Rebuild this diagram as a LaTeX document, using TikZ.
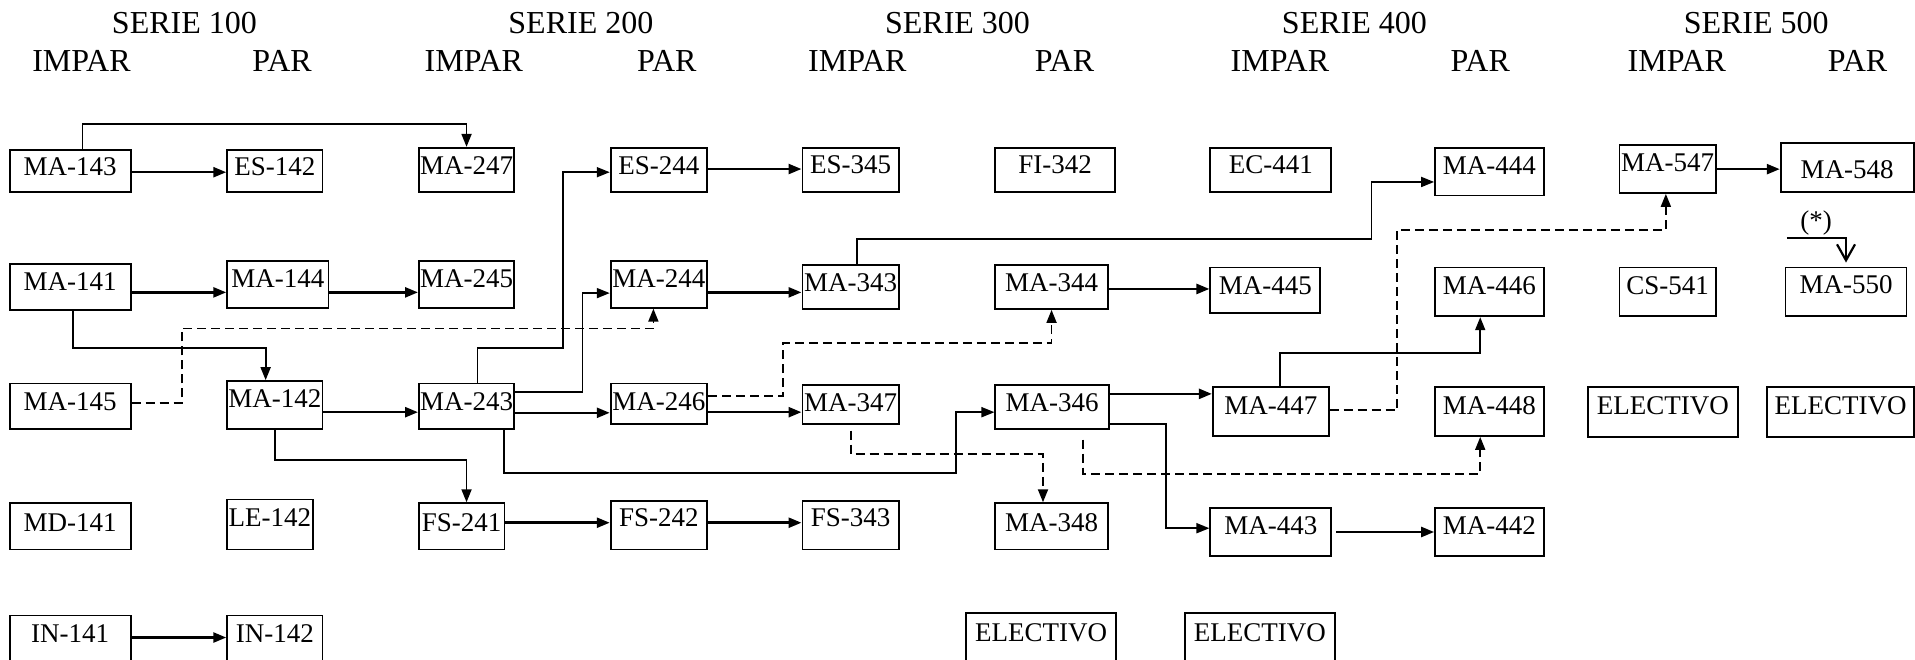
\documentclass[tikz,border=0pt]{standalone}
\usepackage{fontspec}
\setmainfont{Liberation Serif}
\usetikzlibrary{arrows.meta}
\newcommand{\mkbox}[7][]{%
  \pgfmathsetmacro{\mkbw}{(#5-#3)*0.61065}%
  \pgfmathsetmacro{\mkbh}{(#6-#4)*0.61065}%
  \node[box,minimum width=\mkbw pt,minimum height=\mkbh pt,#1] (#2) at ({(#3+#5)/2},{(#4+#6)/2}) {#7};}
\begin{document}
\begin{tikzpicture}[x=0.61065pt,y=-0.61065pt,
  box/.style={draw,line width=0.9pt,inner sep=0pt,font=\fontsize{13.5}{15}\selectfont,text height=9pt,text depth=5pt},
  hdr/.style={font=\fontsize{16}{18}\selectfont,inner sep=0pt},
  conn/.style={line width=1.25pt,-{Triangle[length=6.5pt,width=5pt]}},
  route/.style={line width=0.9pt,-{Triangle[length=6.5pt,width=5pt]}},
  dconn/.style={route,dash pattern=on 4.5pt off 2.5pt}]
\clip (0,0) rectangle (1568,540);
% headers
\node[hdr] (s100) at (151,19) {SERIE 100};
\node[hdr] (s200) at (475.6,19) {SERIE 200};
\node[hdr] (s300) at (784,19) {SERIE 300};
\node[hdr] (s400) at (1109,19) {SERIE 400};
\node[hdr] (s500) at (1438,19) {SERIE 500};
\node[hdr] (i100) at (66.7,50) {IMPAR};
\node[hdr] (p100) at (231,50) {PAR};
\node[hdr] (i200) at (388,50) {IMPAR};
\node[hdr] (p200) at (546,50) {PAR};
\node[hdr] (i300) at (702,50) {IMPAR};
\node[hdr] (p300) at (871.6,50) {PAR};
\node[hdr] (i400) at (1048,50) {IMPAR};
\node[hdr] (p400) at (1212,50) {PAR};
\node[hdr] (i500) at (1373,50) {IMPAR};
\node[hdr] (p500) at (1521,50) {PAR};
% row 1
\mkbox[text depth=4.4pt]{ma143}{8}{123}{107}{157}{MA-143}
\mkbox[text depth=4.4pt]{es142}{186}{123}{264}{157}{ES-142}
\mkbox[text depth=4.4pt]{ma247}{343}{121}{421}{157}{MA-247}
\mkbox[text depth=4.4pt]{es244}{500}{121}{579}{157}{ES-244}
\mkbox{es345}{657}{121}{736}{157}{ES-345}
\mkbox{fi342}{815}{121}{913}{157}{FI-342}
\mkbox{ec441}{991}{121}{1090}{157}{EC-441}
\mkbox[text depth=6.2pt]{ma444}{1175}{121}{1264}{160}{MA-444}
\mkbox[text depth=6.2pt]{ma547}{1326}{119}{1405}{158}{MA-547}
\mkbox[text height=11.4pt,text depth=0pt]{ma548}{1458}{117}{1567}{157}{MA-548}
% row 2
\mkbox[text depth=5.5pt]{ma141}{8}{216}{107}{254}{MA-141}
\mkbox[text depth=6.2pt]{ma144}{186}{214}{269}{252}{MA-144}
\mkbox[text depth=6.2pt]{ma245}{343}{214}{421}{252}{MA-245}
\mkbox[text depth=6.2pt]{ma244}{500}{214}{579}{252}{MA-244}
\mkbox[text depth=4.4pt]{ma343}{657}{217}{736}{253}{MA-343}
\mkbox[text depth=4.4pt]{ma344}{815}{217}{907}{253}{MA-344}
\mkbox[text depth=4.4pt]{ma445}{991}{219}{1081}{256}{MA-445}
\mkbox[text depth=6.2pt]{ma446}{1175}{219}{1264}{259}{MA-446}
\mkbox[text depth=6.2pt]{cs541}{1326}{219}{1405}{259}{CS-541}
\mkbox[text depth=6.9pt]{ma550}{1462}{219}{1561}{259}{MA-550}
% row 3
\mkbox[text depth=4.4pt]{ma145}{8}{314}{107}{351}{MA-145}
\mkbox[text depth=6.8pt]{ma142}{186}{312}{264}{351}{MA-142}
\mkbox[text depth=4.4pt]{ma243}{343}{314}{421}{351}{MA-243}
\mkbox[text depth=1.9pt]{ma246}{500}{314}{579}{347}{MA-246}
\mkbox[text depth=1.9pt]{ma347}{657}{315}{736}{347}{MA-347}
\mkbox[text depth=4.1pt]{ma346}{815}{315}{908}{351}{MA-346}
\mkbox[text depth=5.6pt]{ma447}{993}{317}{1088}{357}{MA-447}
\mkbox[text depth=5.6pt]{ma448}{1175}{317}{1264}{357}{MA-448}
\mkbox[text depth=6.2pt]{el5a}{1300}{317}{1423}{358}{ELECTIVO}
\mkbox[text depth=6.2pt]{el5b}{1447}{317}{1567}{358}{ELECTIVO}
% row 4
\mkbox[text depth=3.8pt]{md141}{8}{412}{107}{450}{MD-141}
\mkbox[text depth=6.8pt]{le142}{186}{409}{256}{450}{LE-142}
\mkbox[text depth=3.8pt]{fs241}{343}{412}{413}{450}{FS-241}
\mkbox[text depth=7.4pt]{fs242}{500}{410}{579}{450}{FS-242}
\mkbox[text depth=7.4pt]{fs343}{657}{410}{736}{450}{FS-343}
\mkbox[text depth=3.8pt]{ma348}{815}{412}{907}{450}{MA-348}
\mkbox[text depth=5.9pt]{ma443}{991}{416}{1090}{455}{MA-443}
\mkbox[text depth=5.9pt]{ma442}{1175}{416}{1264}{455}{MA-442}
% row 5
\mkbox[text depth=9.9pt]{in141}{8}{504}{107}{550}{IN-141}
\mkbox[text depth=9.9pt]{in142}{186}{504}{264}{550}{IN-142}
\mkbox[text depth=10.4pt]{el3}{791}{502}{914}{550}{ELECTIVO}
\mkbox[text depth=10.4pt]{el4}{970}{502}{1093}{550}{ELECTIVO}
% straight connectors
\draw[conn] (ma143.east |- 0,141) -- (es142.west |- 0,141);
\draw[conn] (ma141.east |- 0,239.4) -- (ma144.west |- 0,239.4);
\draw[conn] (ma144.east |- 0,239.4) -- (ma245.west |- 0,239.4);
\draw[conn] (ma142.east |- 0,337.5) -- (ma243.west |- 0,337.5);
\draw[conn] (ma243.east |- 0,338) -- (ma246.west |- 0,338);
\draw[conn] (ma246.east |- 0,337.5) -- (ma347.west |- 0,337.5);
\draw[conn] (es244.east |- 0,138.4) -- (es345.west |- 0,138.4);
\draw[conn] (ma244.east |- 0,239.4) -- (ma343.west |- 0,239.4);
\draw[conn] (fs241.east |- 0,428) -- (fs242.west |- 0,428);
\draw[conn] (fs242.east |- 0,428) -- (fs343.west |- 0,428);
\draw[conn] (in141.east |- 0,522) -- (in142.west |- 0,522);
\draw[conn] (ma344.east |- 0,236.6) -- (ma445.west |- 0,236.6);
\draw[conn] (ma346.east |- 0,322.5) -- (ma447.west |- 0,322.5);
\draw[conn,shorten <=2pt] (ma443.east |- 0,435.6) -- (ma442.west |- 0,435.6);
\draw[conn] (ma547.east |- 0,138.5) -- (ma548.west |- 0,138.5);
% routed connectors
\draw[route] (ma143.north -| 67.6,0) -- (67.6,101.5) -| (ma247.north -| 382,0);
\draw[route] (ma141.south -| 59.6,0) -- (59.6,285) -| (ma142.north -| 217.5,0);
\draw[route] (ma142.south -| 225,0) -- (225,376.6) -| (fs241.north -| 382,0);
\draw[route] (ma243.north -| 391,0) -- (391,285) -- (461,285) |- (es244.west |- 0,141);
\draw[route] (ma243.east |- 0,321) -- (477,321) |- (ma244.west |- 0,240);
\draw[route] (ma243.south -| 412.5,0) -- (412.5,387) -- (783,387) |- (ma346.west |- 0,337.5);
\draw[route] (ma343.north -| 701.5,0) -- (701.5,196) -- (1123,196) |- (ma444.west |- 0,149);
\draw[route] (ma346.east |- 0,347) -- (955,347) |- (ma443.west |- 0,432.5);
\draw[route] (ma447.north -| 1048,0) -- (1048,289) -| (ma446.south -| 1212,0);
% dashed connectors
\draw[dconn] (ma145.east |- 0,330) -- (149,330) -- (149,269) -| (ma244.south -| 535,0);
\draw[dconn] (ma246.east |- 0,324.5) -- (641,324.5) -- (641,281) -| (ma344.south -| 861,0);
\draw[dconn,shorten <=3pt] (ma347.south -| 697,0) -- (697,372) -| (ma348.north -| 854,0);
\draw[dconn,shorten <=5pt] (ma346.south -| 887,0) -- (887,388) -| (ma448.south -| 1212,0);
\draw[dconn] (ma447.east |- 0,336) -- (1144,336) -- (1144,188) -| (ma547.south -| 1364,0);
% (*) note
\node[font=\fontsize{13.5}{15}\selectfont,inner sep=0pt] (star) at (1487,183) {(*)};
\coordinate (stc) at (1463,195);
\draw[line width=0.9pt,-{Straight Barb[length=8pt,width=9pt,line width=1.1pt]},shorten >=2pt] (stc) -| (ma550.north);
\end{tikzpicture}
\end{document}
